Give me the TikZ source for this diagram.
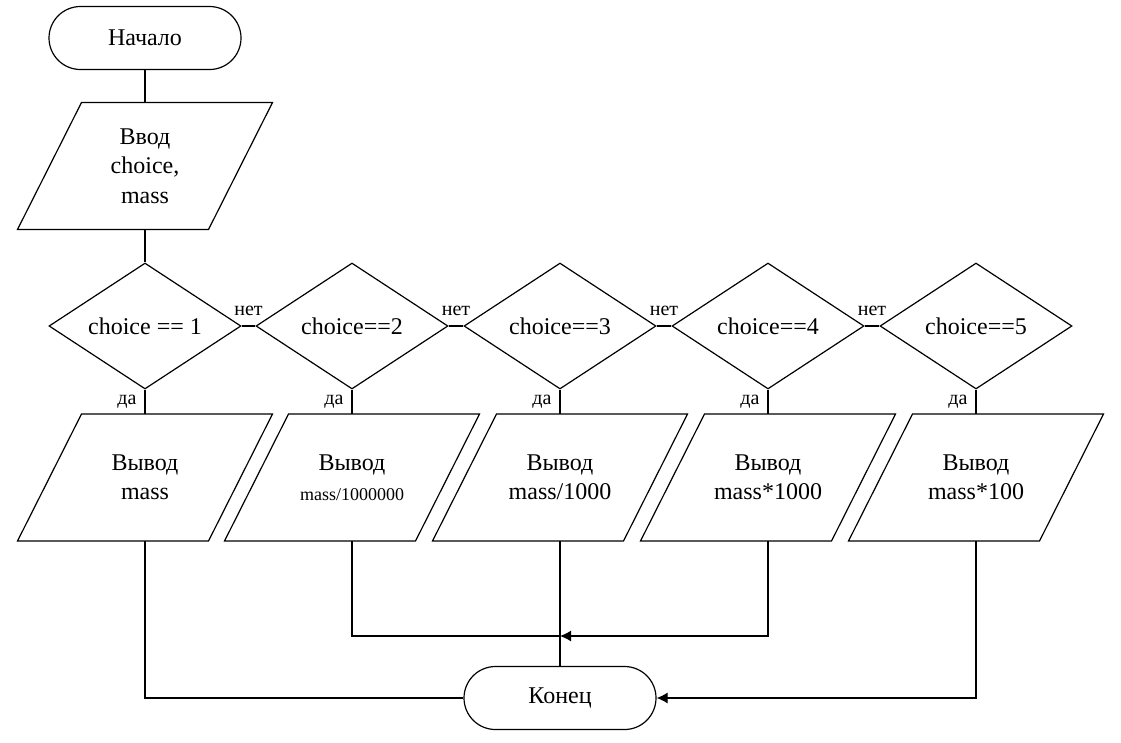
\documentclass[tikz,border=0pt]{standalone}
\usepackage{fontspec}
\setmainfont{Liberation Serif}
\usetikzlibrary{shapes.geometric,shapes.misc,arrows.meta,calc}
\begin{document}
\begin{tikzpicture}[x=1pt,y=-1pt,
  every node/.style={font=\fontsize{24}{29.5}\selectfont},
  conn/.style={line width=1.2pt},
  arr/.style={conn,-{Latex[length=11pt,width=11pt]}},
  term/.style={rounded rectangle, draw, line width=1.2pt, fill=white,
    minimum width=192pt, minimum height=63pt, inner sep=0pt},
  decision/.style={diamond, draw, line width=1.2pt, aspect=1.524,
    minimum width=192pt, minimum height=126pt, inner sep=0pt},
  iotext/.style={minimum width=255pt, minimum height=127pt, inner sep=0pt,
    outer sep=0pt, align=center},
  nolabel/.style={font=\fontsize{20}{24}\selectfont, inner sep=0pt}]
\useasboundingbox (0,0) rectangle (1121,742);

% parallelogram outline around an input/output node
\newcommand\ioframe[1]{%
  \draw[line width=1.2pt] ($(#1.north west)+(64,0)$) -- (#1.north east)
    -- ($(#1.south east)+(-64,0)$) -- (#1.south west) -- cycle;}

% start, input
\node[term] (start) at (145,38) {Начало};
\node[iotext] (in) at (145,166) {Ввод\\choice,\\mass};
\ioframe{in}

% decisions
\node[decision] (d1) at (145,326) {choice == 1};
\node[decision] (d2) at (352,326) {choice==2};
\node[decision] (d3) at (560,326) {choice==3};
\node[decision] (d4) at (768,326) {choice==4};
\node[decision] (d5) at (976,326) {choice==5};

% outputs
\node[iotext] (o1) at (145,477.5) {Вывод\\mass};
\node[iotext] (o2) at (352,477.5) {Вывод\\[1pt]{\fontsize{18}{22}\selectfont mass/1000000}};
\node[iotext] (o3) at (560,477.5) {Вывод\\mass/1000};
\node[iotext] (o4) at (768,477.5) {Вывод\\mass*1000};
\node[iotext] (o5) at (976,477.5) {Вывод\\mass*100};
\foreach \n in {o1,o2,o3,o4,o5} {\ioframe{\n}}

% end
\node[term] (end) at (560,698) {Конец};
\coordinate (j) at (560,636);

% connectors
\draw[conn] (start.south) -- (in.north);
\draw[conn] (in.south) -- (d1.north);
\foreach \a/\b in {d1/d2,d2/d3,d3/d4,d4/d5}
  \draw[conn] (\a.east) -- node[nolabel, above=10pt] {нет} (\b.west);
\foreach \a/\b in {d1/o1,d2/o2,d3/o3,d4/o4,d5/o5}
  \draw[conn] (\a.south) -- node[nolabel, left=8pt] {да} (\b.north);
\draw[conn] (o1.south) |- (end.west);
\draw[conn] (o2.south) |- (j);
\draw[arr] (o4.south) |- (j);
\draw[conn] (o3.south) -- (end.north);
\draw[arr] (o5.south) |- (end.east);
\end{tikzpicture}
\end{document}
